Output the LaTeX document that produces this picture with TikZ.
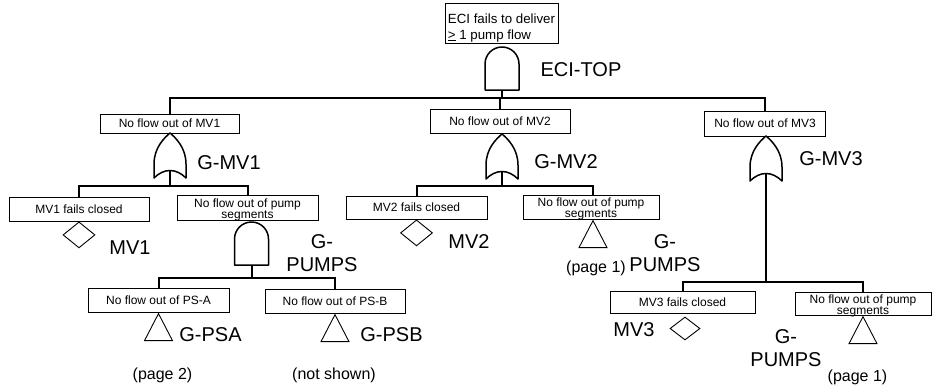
\documentclass[tikz,border=0pt]{standalone}
\usepackage{fontspec}
\setmainfont{Liberation Sans}
\usetikzlibrary{calc,positioning,shapes.geometric}

% gate symbols, drawn from the middle of their base
\newcommand{\andgate}[3]{%
  \begin{scope}[shift={(#2,#3)}]
    \draw[gateline] (-17,0) -- (-17,-26) arc[start angle=180,end angle=0,radius=17pt] -- (17,0) -- cycle;
    \coordinate (#1) at (0,0);
  \end{scope}}
\newcommand{\orgate}[3]{%
  \begin{scope}[shift={(#2,#3)}]
    \draw[gateline] (-16,0) -- (-16,-14) .. controls (-16,-30) and (-6,-40) .. (0,-45)
      .. controls (6,-40) and (16,-30) .. (16,-14) -- (16,0)
      .. controls (6,-10) and (-6,-10) .. (-16,0) -- cycle;
    \coordinate (#1) at (0,-7.5);
  \end{scope}}
\newcommand{\twoline}[2]{\raisebox{-2.5pt}[\height][\depth]{\begin{tabular}{@{}c@{}}#1\\#2\end{tabular}}}

\begin{document}
\begin{tikzpicture}
[x=1pt, y=-1pt,
 box/.style={rectangle,draw,line width=0.9pt,inner sep=0pt,font=\fontsize{12}{11}\selectfont},
 gateline/.style={line width=1.5pt,line join=round},
 branch/.style={line width=2pt},
 hv path/.style={branch, to path={-| (\tikztotarget)}},
 diam/.style={diamond,draw,line width=0.9pt,inner sep=0pt,minimum width=32pt,minimum height=26pt},
 tri/.style={isosceles triangle,isosceles triangle stretches,shape border rotate=90,draw,line width=0.9pt,inner sep=0pt,minimum width=28pt,minimum height=27pt},
 evname/.style={font=\fontsize{20}{23}\selectfont,align=center,inner sep=0pt},
 pagenote/.style={font=\fontsize{16}{19}\selectfont,inner sep=0pt}]
\useasboundingbox (0,0) rectangle (932,388);

% events
\node[box,minimum width=113pt,minimum height=40pt] (top) at (501.5,23)
  {\fontsize{13.3}{16}\selectfont\raisebox{-5pt}[\height][\depth]{\begin{tabular}{@{}l@{}}ECI fails to deliver\\\underline{>} 1 pump flow\end{tabular}}};
\node[box,minimum width=139pt,minimum height=19pt] (mv1o) at (169.5,123.5) {No flow out of MV1};
\node[box,minimum width=140pt,minimum height=24pt] (mv2o) at (500,121)   {No flow out of MV2};
\node[box,minimum width=121pt,minimum height=25pt] (mv3o) at (765,123.5) {No flow out of MV3};
\node[box,minimum width=140pt,minimum height=24pt] (mv1f) at (79,209)    {MV1 fails closed};
\node[box,minimum width=141pt,minimum height=25pt] (seg1) at (247.5,207.5) {\twoline{No flow out of pump}{segments}};
\node[box,minimum width=141pt,minimum height=23pt] (mv2f) at (416.5,207.5) {MV2 fails closed};
\node[box,minimum width=136pt,minimum height=24pt] (seg2) at (591,207)   {\twoline{No flow out of pump}{segments}};
\node[box,minimum width=141pt,minimum height=24pt] (psA)  at (158.5,300) {No flow out of PS-A};
\node[box,minimum width=140pt,minimum height=24pt] (psB)  at (335,301)   {No flow out of PS-B};
\node[box,minimum width=145pt,minimum height=22pt] (mv3f) at (682.5,302) {MV3 fails closed};
\node[box,minimum width=136pt,minimum height=23pt] (seg3) at (863,303.5) {\twoline{No flow out of pump}{segments}};

% basic events and transfers
\node[diam,below=0pt of mv1f] (dMV1) {};
\node[diam,below=0pt of mv2f] (dMV2) {};
\node[diam,minimum width=30pt,minimum height=23pt] (dMV3) at (685,328.5) {};
\node[tri,below=0pt of psA] (tPSA) {};
\node[tri,below=0pt of psB] (tPSB) {};
\node[tri,anchor=north] (tSEG2) at ([xshift=2pt]seg2.south) {};
\node[tri,below=0pt of seg3] (tSEG3) {};

% gates
\andgate{gTOP}{502}{90}
\orgate{gMV1}{170}{178}
\orgate{gMV2}{502}{179}
\orgate{gMV3}{766}{181}
\andgate{gPUMPS}{251.5}{265}

\coordinate (bTOP)   at (502,98);
\coordinate (bMV1)   at (170,186);
\coordinate (bMV2)   at (502,186);
\coordinate (bMV3)   at (766,282);
\coordinate (bPUMPS) at (251.5,278);
\path (gTOP)   edge[branch]  (bTOP)
      (bTOP)   edge[hv path] (mv1o.north)
               edge[hv path] (mv2o.north)
               edge[hv path] (mv3o.north)
      (gMV1)   edge[branch]  (bMV1)
      (bMV1)   edge[hv path] (mv1f.north)
               edge[hv path] (seg1.north)
      (gMV2)   edge[branch]  (bMV2)
      (bMV2)   edge[hv path] (mv2f.north)
               edge[hv path] ([xshift=2pt]seg2.north)
      (gMV3)   edge[branch]  (bMV3)
      (bMV3)   edge[hv path] (mv3f.north)
               edge[hv path] (seg3.north)
      (gPUMPS) edge[branch]  (bPUMPS)
      (bPUMPS) edge[hv path] (psA.north)
               edge[hv path] (psB.north);

% labels
\node[evname] (lTOP)    at (581,70)    {ECI-TOP};
\node[evname] (lMV1g)   at (229,163)   {G-MV1};
\node[evname] (lMV2g)   at (566,162)   {G-MV2};
\node[evname] (lMV3g)   at (831,159)   {G-MV3};
\node[evname] (lMV1)    at (130,248)   {MV1};
\node[evname] (lMV2)    at (469,242)   {MV2};
\node[evname] (lMV3)    at (634,330)   {MV3};
\node[evname] (lPUMPS)  at (322,253.5) {G-\\PUMPS};
\node[evname] (lSEG2)   at (665,253.5) {G-\\PUMPS};
\node[evname] (lSEG3)   at (786,348.5) {G-\\PUMPS};
\node[evname] (lPSA)    at (210.5,335) {G-PSA};
\node[evname] (lPSB)    at (391.5,335) {G-PSB};
\node[pagenote] (pPSA)  at (162.5,375) {(page 2)};
\node[pagenote] (pPSB)  at (334,375)   {(not shown)};
\node[pagenote] (pSEG2) at (596,268)   {(page 1)};
\node[pagenote] (pSEG3) at (857.5,377) {(page 1)};
\end{tikzpicture}
\end{document}
